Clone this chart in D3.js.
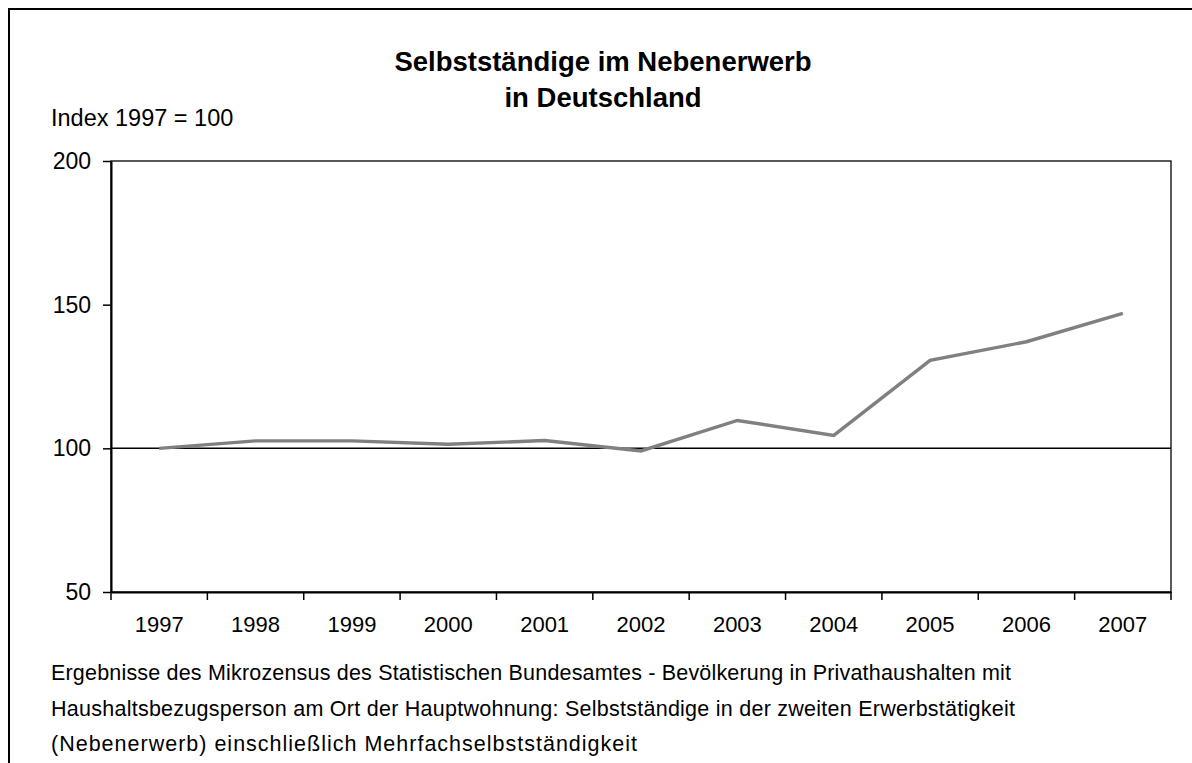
<!DOCTYPE html>
<html>
<head>
<meta charset="utf-8">
<script src="https://cdn.jsdelivr.net/npm/d3@7"></script>
<style>
  body { margin: 0; background: #fff; }
  svg { display: block; font-family: "Liberation Sans", Arial, sans-serif; }
</style>
</head>
<body>
<svg id="chart" width="1192" height="763"></svg>
<script>
// data
var years = ["1997","1998","1999","2000","2001","2002","2003","2004","2005","2006","2007"];
var index = [100, 102.6, 102.6, 101.4, 102.7, 99.1, 109.7, 104.5, 130.6, 137.1, 147];
var yTicks = [50, 100, 150, 200];
var titleLines = ["Selbstständige im Nebenerwerb", "in Deutschland"];
var noteLines = [
  "Ergebnisse des Mikrozensus des Statistischen Bundesamtes - Bevölkerung in Privathaushalten mit",
  "Haushaltsbezugsperson am Ort der Hauptwohnung: Selbstständige in der zweiten Erwerbstätigkeit",
  "(Nebenerwerb) einschließlich Mehrfachselbstständigkeit"
];
// widths the note lines take in the reference
var noteWidths = [960, 964, 586];

var svg = d3.select("#chart");
var plot = {x: 111, y: 161, width: 1060, height: 431};

// outer frame, runs off the right and bottom edge
svg.append("rect")
  .attr("x", 9).attr("y", 9)
  .attr("width", 1300).attr("height", 900)
  .attr("fill", "none").attr("stroke", "#000").attr("stroke-width", 2);

var x = d3.scaleBand()
  .domain(years)
  .range([plot.x, plot.x + plot.width]);

var y = d3.scaleLinear()
  .domain([50, 200])
  .range([plot.y + plot.height, plot.y]);

// plot box
svg.append("rect")
  .attr("x", plot.x).attr("y", plot.y)
  .attr("width", plot.width).attr("height", plot.height)
  .attr("fill", "none").attr("stroke", "#000").attr("stroke-width", 1.3);

// reference line at 100
svg.append("line")
  .attr("x1", plot.x).attr("x2", plot.x + plot.width)
  .attr("y1", y(100)).attr("y2", y(100))
  .attr("stroke", "#000").attr("stroke-width", 1.5);

// y axis
var yAxis = d3.axisLeft(y)
  .tickValues(yTicks)
  .tickSize(8)
  .tickPadding(12)
  .tickSizeOuter(0);

var gy = svg.append("g")
  .attr("transform", "translate(" + plot.x + ",0)")
  .call(yAxis);
gy.select(".domain").attr("stroke-width", 2);
gy.selectAll(".tick line").attr("stroke-width", 1.5);
gy.selectAll(".tick text")
  .style("font-size", "23px")
  .style("font-family", "Liberation Sans, Arial, sans-serif")
  .attr("fill", "#000");

// x axis: ticks between categories
var gx = svg.append("g")
  .attr("transform", "translate(0," + (plot.y + plot.height) + ")")
  .call(d3.axisBottom(x).tickSize(0).tickPadding(24).tickSizeOuter(0));
gx.select(".domain").attr("stroke-width", 2);
gx.selectAll(".tick text")
  .style("font-size", "22px")
  .style("font-family", "Liberation Sans, Arial, sans-serif")
  .attr("fill", "#000");

var bounds = years.map(function(d){ return x(d); }).concat([plot.x + plot.width]);
svg.append("g")
  .selectAll("line")
  .data(bounds)
  .enter()
  .append("line")
  .attr("x1", function(d){ return d; })
  .attr("x2", function(d){ return d; })
  .attr("y1", plot.y + plot.height)
  .attr("y2", plot.y + plot.height + 8)
  .attr("stroke", "#000")
  .attr("stroke-width", 1.5);

// series
var line = d3.line()
  .x(function(d, i){ return x(years[i]) + x.bandwidth() / 2; })
  .y(function(d){ return y(d); });

svg.append("path")
  .datum(index)
  .attr("d", line)
  .attr("fill", "none")
  .attr("stroke", "#808080")
  .attr("stroke-width", 3.4)
  .attr("stroke-linejoin", "miter");

// title
svg.append("g")
  .selectAll("text")
  .data(titleLines)
  .enter()
  .append("text")
  .attr("x", 603)
  .attr("y", function(d, i){ return 71 + i * 36; })
  .attr("text-anchor", "middle")
  .style("font-size", "27.5px")
  .style("font-weight", "bold")
  .text(function(d){ return d; });

// y unit label
svg.append("text")
  .attr("x", 51)
  .attr("y", 126)
  .style("font-size", "23.5px")
  .text("Index 1997 = 100");

// source note
svg.append("g")
  .selectAll("text")
  .data(noteLines)
  .enter()
  .append("text")
  .attr("x", 51)
  .attr("y", function(d, i){ return 680 + i * 35.5; })
  .attr("textLength", function(d, i){ return noteWidths[i]; })
  .attr("lengthAdjust", "spacing")
  .style("font-size", "21.5px")
  .text(function(d){ return d; });
</script>
</body>
</html>
